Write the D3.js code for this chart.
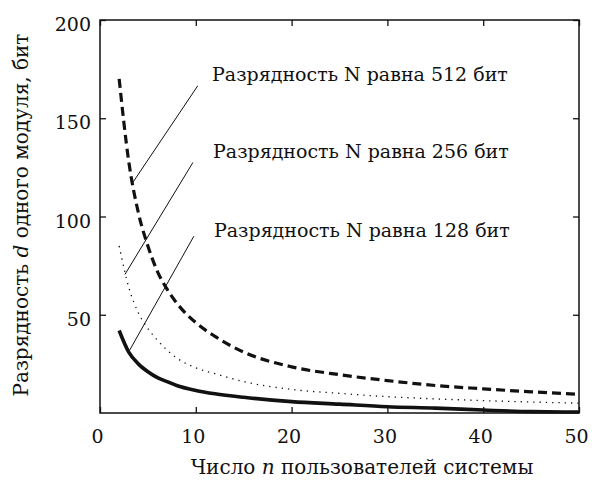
<!DOCTYPE html>
<html>
<head>
<meta charset="utf-8">
<script src="https://cdn.jsdelivr.net/npm/d3@7"></script>
<style>
  body { margin: 0; background: #fff; }
</style>
</head>
<body>
<svg id="chart" width="592" height="481" font-family="DejaVu Serif"></svg>
<script>
// values
const users = [2, 3, 4, 5, 6, 7, 8, 10, 12, 15, 20, 25, 30, 35, 40, 45, 50];
const bits512 = [170, 128, 102, 85, 72, 63, 56, 46, 39, 31, 23.5, 19.5, 16.5, 14, 12.3, 10.8, 9.5];
const bits256 = [85, 64, 51, 43, 37, 32, 28, 23, 20, 16, 12, 10, 8.3, 7.2, 6.3, 5.6, 5];
const bits128 = [42, 31, 25, 21, 18, 16, 14, 11.5, 9.8, 8, 5.8, 4.5, 3.2, 2.5, 1.5, 0.7, 0.5];

const xTicks = [0, 10, 20, 30, 40, 50];
const yTicks = [50, 100, 150, 200];
const yTickLabels = ["50", "100", "150", "200"];

const labels = ["Разрядность N равна 512 бит", "Разрядность N равна 256 бит", "Разрядность N равна 128 бит"];
// leader lines: [n0, d0, n1, d1] in data units
const leaders = [[3.45, 117.5, 10.2, 166.5], [2.6, 70.5, 9.7, 127.5], [3.1, 32, 9.8, 90]];
const labelPos = [[11.7, 169], [11.8, 130], [11.9, 89.5]];

const svg = d3.select("#chart");
const margin = { top: 20, right: 13, bottom: 68, left: 100 };
const W = 592, H = 481;
const FONT = "DejaVu Serif";

const x = d3.scaleLinear().domain([0, 50]).range([margin.left, W - margin.right]);
const y = d3.scaleLinear().domain([0, 200]).range([H - margin.bottom, margin.top]);

// frame
svg.append("rect")
  .attr("x", x(0)).attr("y", y(200))
  .attr("width", x(50) - x(0)).attr("height", y(0) - y(200))
  .attr("fill", "none").attr("stroke", "#111").attr("stroke-width", 1.5);

// inward ticks on all sides
const tk = 6;
const styleTicks = g => g.call(g => g.select(".domain").remove())
  .call(g => g.selectAll("line").attr("stroke", "#111").attr("stroke-width", 1.3));

svg.append("g").attr("transform", `translate(0,${y(0)})`)
  .call(d3.axisBottom(x).tickValues(xTicks).tickSize(-tk).tickFormat(d3.format("d")))
  .attr("font-family", FONT).attr("font-size", 19)
  .call(styleTicks)
  .call(g => g.selectAll("text").attr("fill", "#111").attr("dy", null)
    .attr("x", -3).attr("y", 30));
svg.append("g").attr("transform", `translate(0,${y(200)})`)
  .call(d3.axisTop(x).tickValues(xTicks).tickSize(-tk).tickFormat(""))
  .call(styleTicks);
svg.append("g").attr("transform", `translate(${x(0)},0)`)
  .call(d3.axisLeft(y).tickValues(yTicks).tickSize(-tk).tickFormat((d, i) => yTickLabels[i]))
  .attr("font-family", FONT).attr("font-size", 19)
  .call(styleTicks)
  .call(g => g.selectAll("text").attr("fill", "#111").attr("dy", null)
    .attr("x", -9).attr("y", 10.5));
svg.append("g").attr("transform", `translate(${x(50)},0)`)
  .call(d3.axisRight(y).tickValues(yTicks).tickSize(-tk).tickFormat(""))
  .call(styleTicks);

// curves
const line = d3.line().x((d, i) => x(users[i])).y(d => y(d)).curve(d3.curveMonotoneX);
const plot = svg.append("g");
plot.append("path").attr("d", line(bits512))
  .attr("fill", "none").attr("stroke", "#111").attr("stroke-width", 3.2)
  .attr("stroke-dasharray", "9 5");
plot.append("path").attr("d", line(bits256))
  .attr("fill", "none").attr("stroke", "#111").attr("stroke-width", 1.3)
  .attr("stroke-dasharray", "1.3 5");
plot.append("path").attr("d", line(bits128))
  .attr("fill", "none").attr("stroke", "#111").attr("stroke-width", 3.6);

// leader lines + labels
svg.append("g").selectAll("line").data(leaders).join("line")
  .attr("x1", d => x(d[0])).attr("y1", d => y(d[1]))
  .attr("x2", d => x(d[2])).attr("y2", d => y(d[3]))
  .attr("stroke", "#111").attr("stroke-width", 1);
svg.append("g").selectAll("text").data(labels).join("text")
  .attr("x", (d, i) => x(labelPos[i][0])).attr("y", (d, i) => y(labelPos[i][1]))
  .attr("font-family", FONT).attr("font-size", 19).attr("fill", "#111")
  .text(d => d);

// axis titles
const xt = svg.append("text")
  .attr("x", 362).attr("y", 474).attr("text-anchor", "middle")
  .attr("font-family", FONT).attr("font-size", 20).attr("fill", "#111");
xt.append("tspan").text("Число ");
xt.append("tspan").attr("font-style", "italic").text("n");
xt.append("tspan").text(" пользователей системы");

const yt = svg.append("text")
  .attr("transform", "translate(28,215) rotate(-90)")
  .attr("text-anchor", "middle")
  .attr("font-family", FONT).attr("font-size", 20).attr("fill", "#111");
yt.append("tspan").text("Разрядность ");
yt.append("tspan").attr("font-style", "italic").text("d");
yt.append("tspan").text(" одного модуля, бит");
</script>
</body>
</html>
